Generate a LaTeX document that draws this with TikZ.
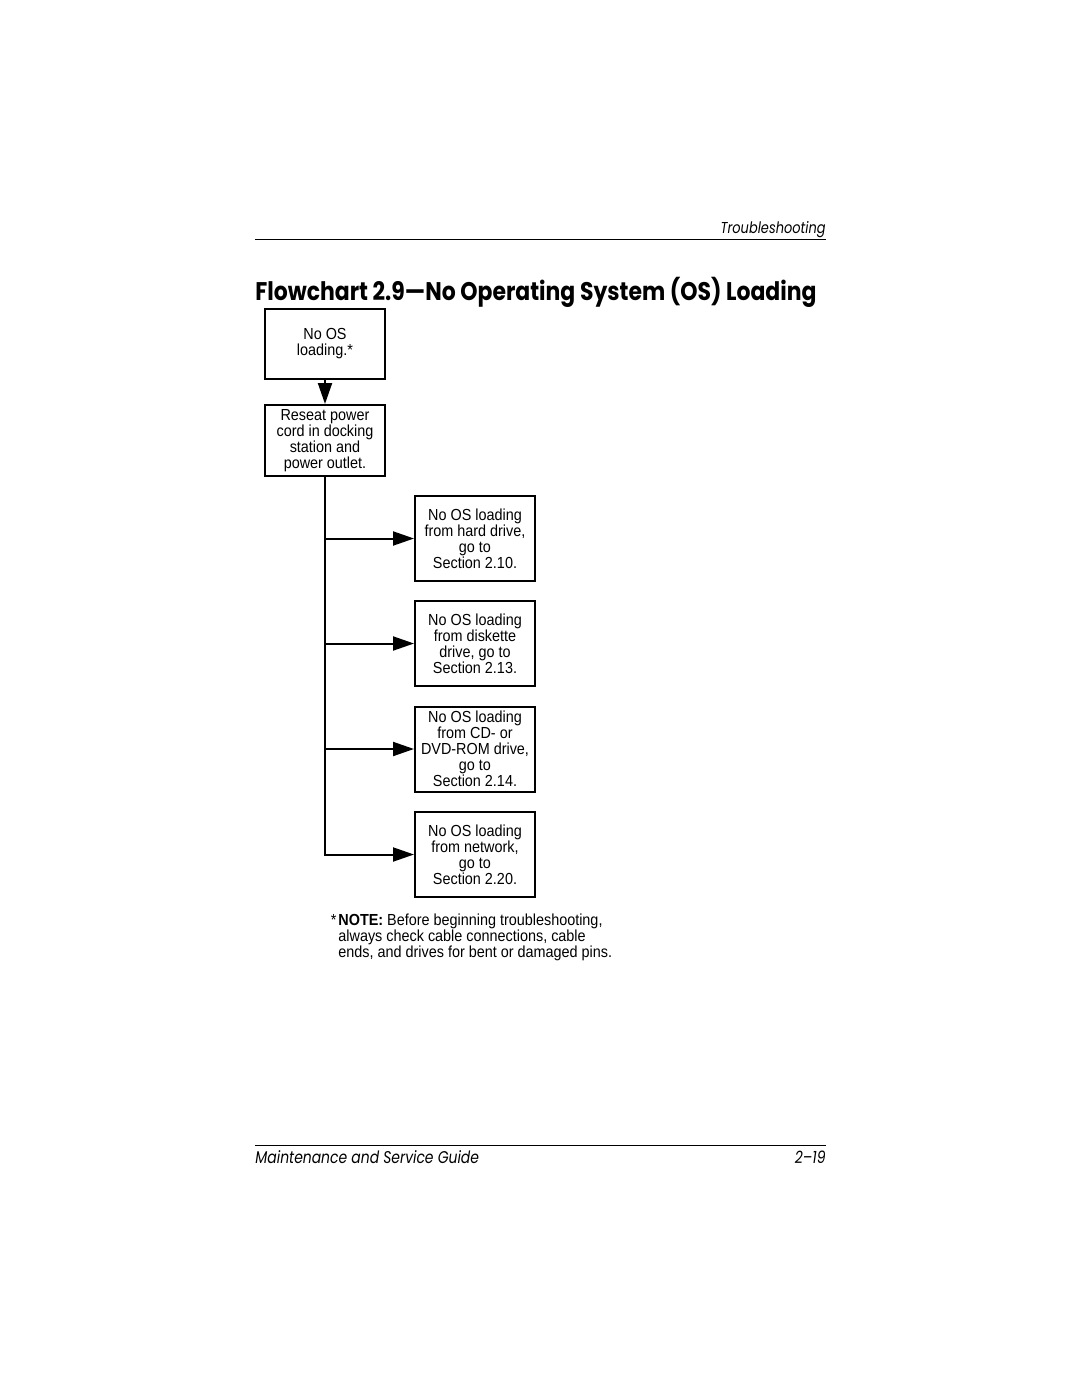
\documentclass[tikz,border=0pt]{standalone}
\usepackage{fontspec}
\setmainfont{Liberation Sans}[FakeStretch=0.9]
\newfontfamily\titlefont{Poppins}[FakeStretch=0.86]
\newfontfamily\runfont{Poppins}[FakeStretch=0.82]
\usetikzlibrary{%
  arrows.meta,% Triangle tips
  positioning%
}

\begin{document}
\begin{tikzpicture}[x=0.5pt,y=-0.5pt,
	action/.style={
	rectangle,
	minimum width=60pt,
	minimum height=35pt,
	line width=1pt,
	draw=black,
	align=center,
	inner sep=0pt,
	font=\fontsize{8}{8}\selectfont
	},goto/.style={
	action,
	minimum height=42.5pt
	},tip/.style={
	line width=1pt,
	-{Triangle[length=10.5pt,width=7pt]}
	},rule/.style={
	line width=0.5pt
	},running/.style={
	inner sep=0pt,
	font=\runfont\itshape\fontsize{8.5}{10}\selectfont
	}
]
\useasboundingbox (0,0) rectangle (1080,1397);

% running head and title
\node (head) [running,anchor=base east,font=\runfont\itshape\fontsize{7.9}{10}\selectfont] at (826,233) {Troubleshooting};
\coordinate (headl) at (255,239);
\coordinate (headr) at (826,239);
\draw[rule] (headl) -- (headr);
\node (title) [anchor=base west,inner sep=0pt,font=\titlefont\bfseries\fontsize{12.75}{14}\selectfont] at (255,300) {Flowchart 2.9—No Operating System (OS) Loading};

% first steps
\node (noos) [action] at (325,344) {No OS\\ loading.*};
\node (reseat) [action,minimum height=35.5pt] at (325,440.5) {Reseat power\\ cord in docking\\ station and\\ power outlet.};

% where to go next
\node (hdd) [goto] at (475,538.5) {No OS loading\\ from hard drive,\\ go to\\ Section 2.10.};
\node (fdd) [goto] at (475,643.5) {No OS loading\\ from diskette\\ drive, go to\\ Section 2.13.};
\node (cdrom) [goto] at (475,749) {No OS loading\\ from CD- or\\ DVD-ROM drive,\\ go to\\ Section 2.14.};
\node (lan) [goto] at (475,854.5) {No OS loading\\ from network,\\ go to\\ Section 2.20.};

\path	(noos)	edge[tip] (reseat);
\draw[tip] (reseat.south) |- (lan.west);
\draw[tip] (reseat.south |- hdd.west) -- (hdd.west);
\draw[tip] (reseat.south |- fdd.west) -- (fdd.west);
\draw[tip] (reseat.south |- cdrom.west) -- (cdrom.west);

% note
\node (note) [anchor=north west,align=left,inner sep=0pt,font=\fontsize{8}{8}\selectfont] at (338,913) {\llap{*\kern1pt}\textbf{NOTE:} Before beginning troubleshooting,\\ always check cable connections, cable\\ ends, and drives for bent or damaged pins.};

% running foot
\coordinate (footl) at (255,1145);
\coordinate (footr) at (826,1145);
\draw[rule] (footl) -- (footr);
\node (guide) [running,anchor=base west] at (255,1163) {Maintenance and Service Guide};
\node (page) [running,anchor=base east] at (826,1163) {2–19};

\end{tikzpicture}
\end{document}
